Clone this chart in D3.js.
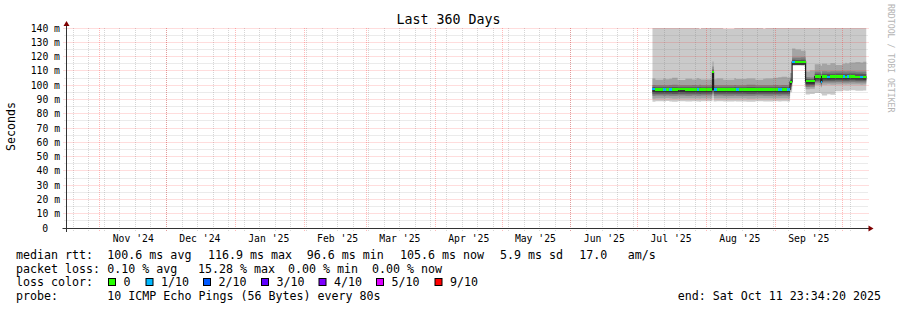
<!DOCTYPE html>
<html>
<head>
<meta charset="utf-8">
<script src="https://cdn.jsdelivr.net/npm/d3@7"></script>
<style>
body { margin: 0; background: #fff; }
svg { display: block; }
text { font-family: "DejaVu Sans Mono", monospace; fill: #000; }
</style>
</head>
<body>
<div id="chart"></div>
<script>
var width = 897,
    height = 310,
    xLeft = 66.5,
    xRight = 866.5,
    yTop = 28,
    yBottom = 228;

var title = "Last 360 Days";
var startTime = new Date(2024, 9, 16, 23, 34, 20),
    endTime = new Date(2025, 9, 11, 23, 34, 20);

var yTicks = [0, 10, 20, 30, 40, 50, 60, 70, 80, 90, 100, 110, 120, 130, 140];

// one row per consolidated step (local time), values in ms
var times = ["2025-07-07 16:00", "2025-07-09 00:00", "2025-07-12 12:00", "2025-07-13 18:00",
    "2025-07-15 06:00", "2025-07-16 12:00", "2025-07-19 00:00", "2025-07-22 12:00",
    "2025-07-25 12:00", "2025-07-27 12:00", "2025-07-28 18:00", "2025-07-29 12:00",
    "2025-08-03 16:00", "2025-08-04 04:00", "2025-08-05 12:00", "2025-08-08 12:00",
    "2025-08-13 12:00", "2025-08-14 06:00", "2025-08-15 18:00", "2025-08-19 00:00",
    "2025-08-23 00:00", "2025-08-26 12:00", "2025-08-27 12:00", "2025-08-31 00:00",
    "2025-09-02 06:00", "2025-09-03 18:00", "2025-09-06 06:00", "2025-09-07 14:00",
    "2025-09-08 12:00", "2025-09-10 00:00", "2025-09-12 12:00", "2025-09-14 14:00",
    "2025-09-16 12:00", "2025-09-18 17:00", "2025-09-21 10:00", "2025-09-21 22:00",
    "2025-09-24 06:00", "2025-09-25 18:00", "2025-09-28 00:00", "2025-10-01 06:00",
    "2025-10-02 12:00", "2025-10-03 00:00", "2025-10-04 06:00", "2025-10-07 00:00",
    "2025-10-09 06:00", "2025-10-10 12:00"];

var median = [97.1, 97.0, 96.9, 97.0, 96.9, 97.0, 97.1, 97.0, 96.9, 97.0, 97.0, 97.0,
    109.0, 97.0, 97.0, 96.9, 97.0, 96.9, 97.0, 97.0, 96.9, 97.0, 97.0, 97.0,
    96.9, 97.0, 97.0, 102.2, 116.2, 116.1, 116.3, 103.0, 102.9, 106.0, 102.4, 106.0,
    105.9, 106.0, 106.1, 106.0, 105.9, 106.0, 106.0, 105.8, 105.8, 105.7];

// lost pings out of 10
var loss = [1, 0, 1, 0, 1, 0, 0, 0, 0, 1, 0, 0,
    0, 1, 0, 0, 0, 1, 0, 0, 0, 0, 0, 0,
    1, 0, 1, 0, 1, 0, 0, 0, 0, 0, 1, 0,
    1, 0, 0, 1, 0, 1, 0, 0, 1, 0];

var ping1 = [88.3, 88.7, 88.5, 88.9, 88.6, 88.4, 88.8, 88.5, 88.7, 88.6, 88.4, 88.8,
    97.0, 88.6, 88.7, 88.5, 88.8, 88.6, 88.6, 88.4, 88.7, 88.6, 88.5, 88.8,
    88.6, 88.7, 88.5, 95.0, 113.8, 113.9, 113.8, 93.5, 93.8, 94.5, 94.0, 92.8,
    93.6, 93.2, 95.8, 96.2, 96.0, 96.1, 96.4, 96.1, 96.0, 96.3];
var ping2 = [90.5, 90.7, 90.6, 90.8, 90.6, 90.5, 90.7, 90.6, 90.7, 90.6, 90.5, 90.7,
    97.0, 90.6, 90.7, 90.6, 90.7, 90.6, 90.6, 90.5, 90.7, 90.6, 90.6, 90.7,
    90.6, 90.7, 90.6, 97.0, 114.0, 114.0, 114.0, 97.2, 97.4, 100.3, 98.5, 100.2,
    100.4, 100.3, 100.5, 100.4, 100.3, 100.4, 100.5, 100.4, 100.3, 100.4];
var ping3 = [92.5, 92.7, 92.6, 92.8, 92.6, 92.5, 92.7, 92.6, 92.7, 92.6, 92.5, 92.7,
    97.0, 92.6, 92.7, 92.6, 92.7, 92.6, 92.6, 92.5, 92.7, 92.6, 92.6, 92.7,
    92.6, 92.7, 92.6, 98.5, 114.1, 114.1, 114.1, 98.7, 98.8, 101.8, 100.0, 101.8,
    101.9, 101.8, 102.0, 101.9, 101.8, 101.9, 102.0, 101.8, 101.8, 101.9];
var ping4 = [93.9, 94.0, 93.9, 94.0, 93.9, 93.8, 94.0, 93.9, 94.0, 93.9, 93.8, 94.0,
    97.0, 93.9, 94.0, 93.9, 94.0, 93.9, 93.9, 93.8, 94.0, 93.9, 93.9, 94.0,
    93.9, 94.0, 93.9, 99.8, 114.2, 114.2, 114.2, 100.0, 100.1, 103.0, 101.0, 103.0,
    103.1, 103.0, 103.2, 103.1, 103.0, 103.1, 103.2, 103.0, 103.0, 103.1];
var ping5 = [95.2, 95.1, 95.0, 95.1, 95.0, 95.1, 95.2, 95.1, 95.0, 95.1, 95.1, 95.1,
    97.0, 95.1, 95.1, 95.0, 95.1, 95.0, 95.1, 95.1, 95.0, 95.1, 95.1, 95.1,
    95.0, 95.1, 95.1, 100.6, 114.3, 114.3, 114.3, 101.0, 100.9, 104.1, 101.5, 104.1,
    104.0, 104.1, 104.2, 104.1, 104.0, 104.1, 104.1, 103.9, 103.9, 103.8];
var ping7 = [98.7, 98.5, 98.6, 98.5, 98.6, 98.7, 98.6, 98.5, 98.6, 98.6, 98.7, 98.5,
    111.0, 98.6, 98.6, 98.5, 98.7, 98.6, 98.6, 98.7, 98.5, 98.6, 98.6, 98.6,
    98.6, 98.7, 98.6, 103.8, 117.7, 117.6, 117.8, 104.3, 104.2, 108.0, 106.0, 108.0,
    107.9, 108.0, 108.1, 108.0, 107.9, 108.0, 108.1, 107.9, 107.9, 107.8];
var ping8 = [100.1, 99.9, 100.0, 99.9, 100.1, 100.2, 100.0, 99.9, 100.1, 100.0, 100.2, 99.9,
    113.0, 100.0, 100.0, 99.9, 100.1, 100.0, 100.0, 100.2, 99.9, 100.0, 100.0, 100.1,
    100.0, 100.1, 100.0, 105.2, 119.4, 119.3, 119.5, 105.6, 105.4, 109.6, 108.0, 109.7,
    109.6, 109.7, 109.8, 109.7, 109.6, 109.7, 109.8, 109.6, 109.6, 109.5];
var ping9 = [104.6, 103.8, 104.7, 104.1, 104.4, 105.1, 103.6, 104.5, 104.0, 104.8, 104.3, 103.9,
    116.5, 104.2, 104.6, 103.7, 104.9, 104.3, 104.3, 104.7, 103.8, 104.5, 104.6, 105.2,
    105.5, 105.8, 105.4, 108.5, 125.6, 124.9, 124.0, 109.6, 110.3, 114.6, 113.5, 115.0,
    114.3, 115.4, 114.1, 115.0, 115.6, 115.2, 115.9, 116.2, 115.8, 116.4];
var ping10 = [141, 141, 141, 141, 141, 141, 141, 141, 141, 141, 139.3, 141,
    141, 141, 141, 139.5, 141, 141, 141, 141, 141, 139.4, 141, 141,
    141, 141, 141, 141, 141, 141, 141, 141, 141, 141, 141, 141,
    141, 141, 141, 141, 141, 141, 141, 141, 141, 141];

var lossLabels = ["0", "1/10", "2/10", "3/10", "4/10", "5/10", "9/10"];
var lossLevels = [0, 1, 2, 3, 4, 5, 9];
var lossColors = ["#26ff00", "#00b8ff", "#0059ff", "#5e00ff", "#7e00ff", "#dd00ff", "#ff0000"];

var rttStats = ["100.6 ms avg", "116.9 ms max", "96.6 ms min", "105.6 ms now", "5.9 ms sd", "17.0", "am/s"];
var lossStats = ["0.10 % avg", "15.28 % max", "0.00 % min", "0.00 % now"];
var probeText = "10 ICMP Echo Pings (56 Bytes) every 80s";
var endText = "end: Sat Oct 11 23:34:20 2025";

var smokeColors = ["#cacaca", "#a4a4a4", "#7e7e7e", "#585858", "#323232"];

var parse = d3.timeParse("%Y-%m-%d %H:%M");

var rows = times.map(function (t, i) {
    return {
        t: parse(t),
        med: median[i],
        loss: loss[i],
        p: [ping1[i], ping2[i], ping3[i], ping4[i], ping5[i], median[i],
            ping7[i], ping8[i], ping9[i], ping10[i]]
    };
});
// last step runs to the end of the graph
var last = rows[rows.length - 1];
rows.push({ t: endTime, med: last.med, loss: last.loss, p: last.p });

var svg = d3.select("#chart").append("svg")
    .attr("width", width)
    .attr("height", height);

svg.append("rect").attr("width", width).attr("height", height).attr("fill", "#fff");

var x = d3.scaleTime().domain([startTime, endTime]).range([xLeft, xRight]);
var y = d3.scaleLinear().domain([0, 140]).range([yBottom, yTop]);

function px(v) { return Math.floor(v) + 0.5; }

svg.append("clipPath").attr("id", "plot")
    .append("rect")
    .attr("x", xLeft).attr("y", yTop)
    .attr("width", xRight - xLeft).attr("height", yBottom - yTop);

var plot = svg.append("g").attr("clip-path", "url(#plot)");

// smoke: band k spans ping(k+1) .. ping(10-k)
smokeColors.forEach(function (col, k) {
    var band = d3.area()
        .x(function (d) { return x(d.t); })
        .y0(function (d) { return y(d.p[k]); })
        .y1(function (d) { return y(d.p[9 - k]); })
        .curve(d3.curveStepAfter);
    plot.append("path")
        .datum(rows)
        .attr("d", band)
        .attr("fill", col);
});

// grid over the smoke, like rrdtool
var gridMinor = "rgba(120,120,120,0.3)",
    gridMajor = "rgba(255,0,0,0.27)";

var grid = svg.append("g").attr("stroke-width", 1).attr("stroke-dasharray", "1,1");

var weeks = d3.timeWeek.range(startTime, endTime),
    months = d3.timeMonth.range(startTime, endTime);

grid.selectAll(".hminor")
    .data(d3.range(5, 140, 10))
    .enter().append("line")
    .attr("x1", xLeft - 2).attr("x2", xRight + 2)
    .attr("y1", function (d) { return px(y(d)); })
    .attr("y2", function (d) { return px(y(d)); })
    .attr("stroke", gridMinor);

grid.selectAll(".vminor")
    .data(weeks)
    .enter().append("line")
    .attr("x1", function (d) { return px(x(d)); })
    .attr("x2", function (d) { return px(x(d)); })
    .attr("y1", yTop).attr("y2", yBottom + 3)
    .attr("stroke", gridMinor);

grid.selectAll(".hmajor")
    .data(yTicks.slice(1))
    .enter().append("line")
    .attr("x1", xLeft - 3).attr("x2", xRight + 2)
    .attr("y1", function (d) { return px(y(d)); })
    .attr("y2", function (d) { return px(y(d)); })
    .attr("stroke", gridMajor);

grid.selectAll(".vmajor")
    .data(months)
    .enter().append("line")
    .attr("x1", function (d) { return px(x(d)); })
    .attr("x2", function (d) { return px(x(d)); })
    .attr("y1", yTop).attr("y2", yBottom + 3)
    .attr("stroke", gridMajor);

// median: black step line, then loss coloured band on top
var medLine = d3.line()
    .x(function (d) { return x(d.t); })
    .y(function (d) { return y(d.med); })
    .curve(d3.curveStepAfter);

plot.append("path")
    .datum(rows)
    .attr("d", medLine)
    .attr("fill", "none")
    .attr("stroke", "#202020")
    .attr("stroke-width", 1.2);

function lossColor(n) {
    var idx = 0;
    lossLevels.forEach(function (l, i) { if (n >= l) idx = i; });
    return lossColors[idx];
}

plot.selectAll(".loss")
    .data(rows.slice(0, -1))
    .enter().append("rect")
    .attr("x", function (d) { return x(d.t); })
    .attr("width", function (d, i) { return x(rows[i + 1].t) - x(d.t); })
    .attr("y", function (d) { return y(d.med) - 1.2; })
    .attr("height", 2.4)
    .attr("fill", function (d) { return lossColor(d.loss); })
    .attr("shape-rendering", "crispEdges");

// axes
var axisCol = "#333";
svg.append("line")
    .attr("x1", xLeft - 4).attr("x2", xRight + 4)
    .attr("y1", yBottom + 0.5).attr("y2", yBottom + 0.5)
    .attr("stroke", axisCol);
svg.append("line")
    .attr("x1", xLeft).attr("x2", xLeft)
    .attr("y1", yBottom + 4).attr("y2", yTop - 4)
    .attr("stroke", axisCol);

svg.append("path")
    .attr("d", "M" + (xRight + 2) + "," + (yBottom - 2.5) + "L" + (xRight + 2) + "," + (yBottom + 3.5) +
        "L" + (xRight + 7) + "," + (yBottom + 0.5) + "Z")
    .attr("fill", "#7f0000");
svg.append("path")
    .attr("d", "M" + (xLeft - 3) + "," + (yTop - 2) + "L" + (xLeft + 3) + "," + (yTop - 2) +
        "L" + xLeft + "," + (yTop - 7) + "Z")
    .attr("fill", "#7f0000");

// y labels
svg.selectAll(".ylab")
    .data(yTicks)
    .enter().append("text")
    .attr("x", function (d) { return d === 0 ? 48 : 60; })
    .attr("y", function (d) { return px(y(d)) + 3.5; })
    .attr("text-anchor", "end")
    .style("font-size", "9.75px")
    .text(function (d) { return d === 0 ? "0" : d + " m"; });

// x labels, centred mid-month
var fmt = d3.timeFormat("%b '%y");
var labelMonths = d3.timeMonth.range(d3.timeMonth.floor(startTime), endTime)
    .filter(function (m) {
        var c = d3.timeDay.offset(m, 15);
        return c > startTime && c < endTime;
    });

svg.selectAll(".xlab")
    .data(labelMonths)
    .enter().append("text")
    .attr("x", function (d) { return x(d3.timeDay.offset(d, 15)); })
    .attr("y", 242)
    .attr("text-anchor", "middle")
    .style("font-size", "9.75px")
    .text(fmt);

// title and side texts
svg.append("text")
    .attr("x", 448.5).attr("y", 24)
    .attr("text-anchor", "middle")
    .style("font-size", "13.3px")
    .text(title);

svg.append("text")
    .attr("transform", "translate(15,126.5) rotate(-90)")
    .attr("text-anchor", "middle")
    .style("font-size", "11.6px")
    .text("Seconds");

svg.append("text")
    .attr("transform", "translate(888,4) rotate(90)")
    .style("font-size", "8.2px")
    .style("fill", "#b4b4b4")
    .text("RRDTOOL / TOBI OETIKER");

// legend
var legend = svg.append("g").style("font-size", "11.65px");

function put(str, xx, yy) {
    legend.append("text").attr("x", xx).attr("y", yy)
        .attr("xml:space", "preserve").text(str);
}

var rttX = [107.3, 208, 306.7, 400, 500, 579.3, 627.7];
put("median rtt:", 16, 258.5);
rttStats.forEach(function (s, i) { put(s, rttX[i], 258.5); });

var lossX = [107.3, 198, 288, 372];
put("packet loss:", 16, 272.5);
lossStats.forEach(function (s, i) { put(s, lossX[i], 272.5); });

var boxX = [108.5, 146, 203.5, 261.5, 319, 376.5, 435];
put("loss color:", 16, 286.3);
lossLabels.forEach(function (s, i) {
    legend.append("rect")
        .attr("x", boxX[i]).attr("y", 278.5)
        .attr("width", 7).attr("height", 7)
        .attr("fill", lossColors[i])
        .attr("stroke", "#000");
    put(s, boxX[i] + 15, 286.3);
});

put("probe:", 16, 300.3);
put(probeText, 107.3, 300.3);
put(endText, 677.7, 300.3);
</script>
</body>
</html>
